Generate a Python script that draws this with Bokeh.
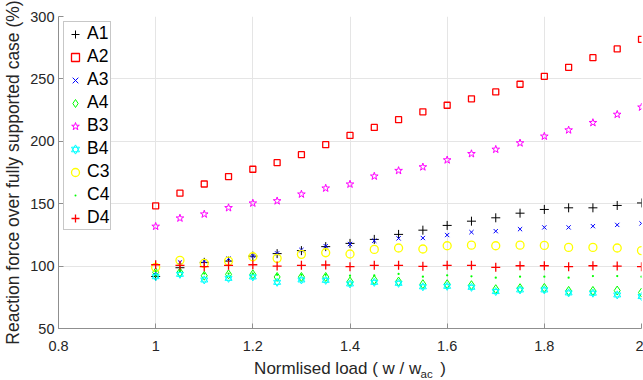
from bokeh.plotting import figure
from bokeh.models import FixedTicker, Legend, Title
from bokeh.embed import file_html
from bokeh.resources import INLINE

# ---------------- data ----------------
load = [1.00, 1.05, 1.10, 1.15, 1.20, 1.25, 1.30, 1.35, 1.40, 1.45, 1.50,
        1.55, 1.60, 1.65, 1.70, 1.75, 1.80, 1.85, 1.90, 1.95, 2.00]

A1 = [91.7, 98.7, 103.0, 104.0, 108.0, 110.0, 112.4, 115.6, 118.2, 121.4, 125.4,
      128.8, 132.6, 136.0, 138.7, 142.4, 145.4, 146.7, 146.7, 148.6, 150.6]
A2 = [148.3, 158.4, 165.8, 171.7, 177.6, 182.9, 189.3, 197.3, 204.7, 211.1, 217.3,
      223.6, 228.9, 234.0, 239.6, 245.7, 252.1, 259.3, 267.0, 274.0, 281.7]
A3 = [95.0, 103.0, 104.0, 106.0, 108.4, 110.2, 112.9, 116.0, 117.7, 120.3, 122.2,
      122.5, 124.9, 127.2, 128.0, 129.6, 131.0, 131.0, 132.0, 133.0, 134.2]
A4 = [95.0, 95.0, 92.3, 93.4, 93.4, 91.3, 91.3, 91.3, 87.6, 88.9, 87.6,
      85.5, 85.5, 84.7, 81.5, 82.3, 82.5, 80.1, 80.1, 80.4, 78.8]
B3 = [131.8, 138.4, 141.6, 146.7, 150.4, 152.2, 157.6, 162.4, 165.6, 172.0, 176.5,
      179.4, 185.0, 190.0, 193.5, 198.6, 204.0, 209.0, 214.9, 221.5, 227.3]
B4 = [91.5, 93.4, 88.9, 90.2, 91.3, 87.0, 88.9, 88.6, 85.7, 87.0, 86.2,
      83.4, 83.8, 83.0, 79.6, 80.9, 80.9, 78.5, 78.3, 76.9, 75.6]
C3 = [99.0, 104.6, 102.2, 104.0, 107.5, 106.2, 109.4, 110.7, 109.7, 113.4, 114.5,
      113.7, 116.3, 116.8, 116.3, 116.8, 116.6, 115.0, 115.0, 114.5, 112.4]
C4 = [96.0, 96.0, 94.0, 94.0, 94.0, 93.0, 93.0, 93.0, 92.3, 92.5, 93.7,
      91.5, 92.6, 91.8, 90.7, 91.5, 91.5, 90.7, 92.0, 92.0, 91.5]
D4 = [101.1, 100.6, 99.5, 100.6, 101.1, 100.0, 100.6, 100.9, 99.5, 100.6, 100.6,
      99.8, 100.6, 100.6, 99.0, 100.3, 100.3, 99.5, 100.3, 100.0, 99.5]

x_ticks = [0.8, 1.0, 1.2, 1.4, 1.6, 1.8, 2.0]
x_tick_labels = ["0.8", "1", "1.2", "1.4", "1.6", "1.8", "2"]
y_ticks = [50, 100, 150, 200, 250, 300]

FONT = "Liberation Sans"
TXT = "#262626"
NB = "\u00a0"

p = figure(width=643, height=380, output_backend="svg", toolbar_location=None,
           x_range=(0.8, 2.0), y_range=(50, 300),
           min_border_left=58, min_border_right=2, min_border_top=16, min_border_bottom=52)
p.outline_line_color = None
p.background_fill_color = "white"

# axes
for ax in (p.xaxis[0], p.yaxis[0]):
    ax.axis_line_color = "#8f8f8f"
    ax.major_tick_line_color = "#8f8f8f"
    ax.major_tick_in = 5
    ax.major_tick_out = 0
    ax.minor_tick_in = 0
    ax.minor_tick_out = 0
    ax.major_label_text_font = FONT
    ax.major_label_text_font_size = "14.5px"
    ax.major_label_text_color = TXT
    ax.axis_label_text_font = FONT
    ax.axis_label_text_font_style = "normal"
    ax.axis_label_text_color = TXT

p.xaxis.ticker = FixedTicker(ticks=x_ticks)
p.xaxis.major_label_overrides = {t: l for t, l in zip(x_ticks, x_tick_labels)}
p.xaxis.major_label_standoff = 12
p.xaxis.axis_label = "Normlised load ( w / w" + NB * 4 + ")"
p.xaxis.axis_label_text_font_size = "17px"
p.xaxis.axis_label_standoff = 5

p.yaxis.ticker = FixedTicker(ticks=y_ticks)
p.yaxis.major_label_standoff = 4
p.yaxis.axis_label = "Reaction force over fully supported case (%)"
p.yaxis.axis_label_text_font_size = "17.5px"
p.yaxis.axis_label_standoff = 4

p.grid.grid_line_color = "#e5e5e5"
p.grid.grid_line_width = 1

# subscript of the x label
sub = Title(text="ac", align="left", offset=362, vertical_align="top", standoff=-26,
            text_font=FONT, text_font_size="11.5px", text_font_style="normal", text_color=TXT)
p.add_layout(sub, "below")

# series
items = []
r = p.scatter(load, A1, marker="cross", size=9, line_color="black", line_width=1)
items.append(("A1", [r]))
r = p.scatter(load, A2, marker="square", size=6, line_color="red", fill_color=None, line_width=1.3)
items.append(("A2", [r]))
r = p.scatter(load, A3, marker="x", size=6, line_color="blue", line_width=1)
items.append(("A3", [r]))
r = p.scatter(load, A4, marker="diamond", size=9, line_color="#00ff00", fill_color=None, line_width=1)
items.append(("A4", [r]))
r = p.scatter(load, B3, marker="star", size=8, line_color="magenta", fill_color=None, line_width=1)
items.append(("B3", [r]))
r1 = p.scatter(load, B4, marker="triangle", size=7, line_color="cyan", fill_color=None, line_width=1)
r2 = p.scatter(load, B4, marker="inverted_triangle", size=7, line_color="cyan", fill_color=None, line_width=1)
items.append(("B4", [r1, r2]))
r = p.scatter(load, C3, marker="circle", size=8, line_color="yellow", fill_color=None, line_width=1.3)
items.append(("C3", [r]))
r = p.scatter(load, C4, marker="dot", size=9, line_color="#00ff00", fill_color="#00ff00")
items.append(("C4", [r]))
r = p.scatter(load, D4, marker="cross", size=9, line_color="red", line_width=1.3)
items.append(("D4", [r]))

legend = Legend(items=items, location="top_left")
legend.margin = 5
legend.padding = 1
legend.spacing = 2
legend.label_height = 20
legend.glyph_height = 20
legend.glyph_width = 20
legend.label_standoff = 2
legend.label_text_font = FONT
legend.label_text_font_size = "17.5px"
legend.label_text_color = "black"
legend.border_line_color = "#8f8f8f"
legend.border_line_width = 1
legend.background_fill_color = "white"
legend.background_fill_alpha = 1
p.add_layout(legend, "center")

open("out.html", "w").write(file_html(p, INLINE))
